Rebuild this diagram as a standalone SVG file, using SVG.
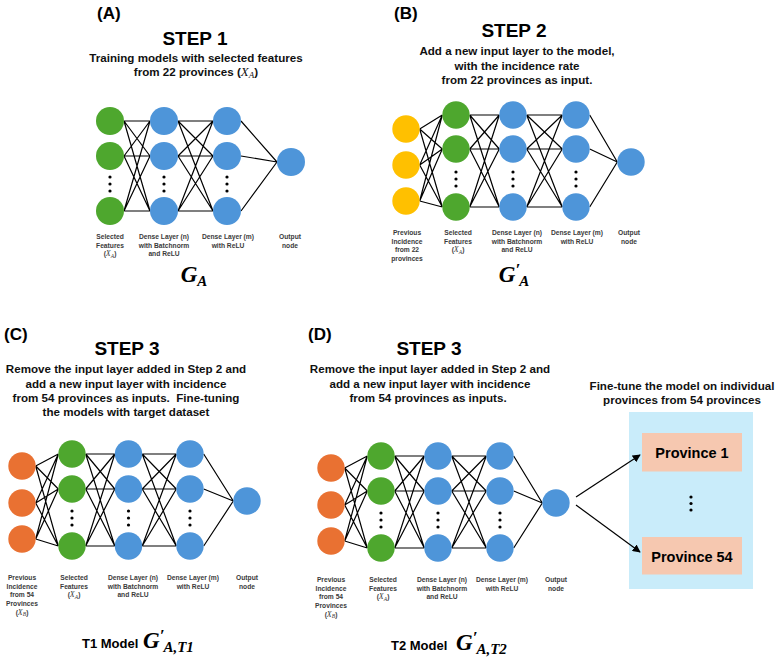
<svg xmlns="http://www.w3.org/2000/svg" width="778" height="659" viewBox="0 0 778 659">
<defs>
<style>
.t{font-family:"Liberation Sans",Arial,sans-serif;font-weight:bold;fill:#000}
.lab{font-family:"Liberation Sans",Arial,sans-serif;font-weight:bold;font-size:6.7px;fill:#3a3a3a;text-anchor:middle}
.sub{font-family:"Liberation Sans",Arial,sans-serif;font-weight:bold;font-size:11.6px;fill:#111;text-anchor:middle}
.step{font-family:"Liberation Sans",Arial,sans-serif;font-weight:bold;font-size:19px;fill:#000;text-anchor:middle}
.pl{font-family:"Liberation Sans",Arial,sans-serif;font-weight:bold;font-size:17px;fill:#000}
.m{font-family:"Liberation Serif","Times New Roman",serif;font-style:italic;font-weight:bold}
.mi{font-family:"Liberation Serif","Times New Roman",serif;font-style:italic;font-weight:normal}
.g{fill:#4EA72E}.b{fill:#4E95D9}.y{fill:#FFC000}.o{fill:#E97132}
.e{stroke:#000;stroke-width:1.2;fill:none}
.dot{fill:#000}
</style>
<marker id="arr" viewBox="0 0 10 10" refX="9" refY="5" markerWidth="8" markerHeight="8" orient="auto-start-reverse" markerUnits="userSpaceOnUse">
<path d="M0,0 L10,5 L0,10 z" fill="#000"/>
</marker>
</defs>
<rect width="778" height="659" fill="#fff"/>

<!-- Fine-tune box (background node) -->
<g id="finetune-box"><rect x="629" y="412" width="124" height="177" fill="#C9ECFA"/>
<circle class="dot" cx="691" cy="497" r="1.6"/><circle class="dot" cx="691" cy="503.5" r="1.6"/><circle class="dot" cx="691" cy="510" r="1.6"/></g>
<g id="province1"><rect x="642" y="433" width="100" height="38.5" fill="#F6C8B0"/>
<text class="t" x="692" y="458" font-size="14.5" text-anchor="middle">Province 1</text></g>
<g id="province54"><rect x="642" y="537" width="100" height="37.5" fill="#F6C8B0"/>
<text class="t" x="692" y="561.5" font-size="14.5" text-anchor="middle">Province 54</text></g>

<!-- Headers -->
<g id="panelA-title">
<text class="pl" x="97" y="19">(A)</text>
<text class="step" x="195" y="45">STEP 1</text>
<text class="sub" x="196" y="62">Training models with selected features</text>
<text class="sub" x="196" y="76">from 22 provinces (<tspan class="mi" font-size="13">X</tspan><tspan class="mi" font-size="9" dy="2">A</tspan><tspan dy="-2">)</tspan></text>
</g>
<g id="panelB-title">
<text class="pl" x="394" y="19">(B)</text>
<text class="step" x="514" y="37">STEP 2</text>
<text class="sub" x="517" y="55">Add a new input layer to the model,</text>
<text class="sub" x="517" y="69.5">with the incidence rate</text>
<text class="sub" x="517" y="84">from 22 provinces as input.</text>
</g>
<g id="panelC-title">
<text class="pl" x="4" y="340">(C)</text>
<text class="step" x="127" y="355">STEP 3</text>
<text class="sub" x="126" y="373">Remove the input layer added in Step 2 and</text>
<text class="sub" x="126" y="387.5">add a new input layer with incidence</text>
<text class="sub" x="126" y="402" xml:space="preserve">from 54 provinces as inputs.  Fine-tuning</text>
<text class="sub" x="126" y="416">the models with target dataset</text>
</g>
<g id="panelD-title">
<text class="pl" x="308" y="340">(D)</text>
<text class="step" x="429" y="355">STEP 3</text>
<text class="sub" x="430" y="373">Remove the input layer added in Step 2 and</text>
<text class="sub" x="430" y="388">add a new input layer with incidence</text>
<text class="sub" x="428" y="402">from 54 provinces as inputs.</text>
<text class="sub" x="682" y="390">Fine-tune the model on individual</text>
<text class="sub" x="682" y="404">provinces from 54 provinces</text>
</g>

<!-- Connectors -->
<g id="connectors">
<!-- A -->
<path class="e" d="M124,121L150,121M124,121L150,156M124,121L150,211M124,156L150,121M124,156L150,156M124,156L150,211M124,211L150,121M124,211L150,156M124,211L150,211"/>
<path class="e" d="M178,121L213,121M178,121L213,156M178,121L213,211M178,156L213,121M178,156L213,156M178,156L213,211M178,211L213,121M178,211L213,156M178,211L213,211"/>
<path class="e" d="M241,121L277,162M241,156L277,162M241,211L277,162"/>
<!-- B -->
<path class="e" d="M419.7,129L442.3,115M419.7,129L442.3,149M419.7,129L442.3,207M419.7,165L442.3,115M419.7,165L442.3,149M419.7,165L442.3,207M419.7,201L442.3,115M419.7,201L442.3,149M419.7,201L442.3,207"/>
<path class="e" d="M469.7,115L499.3,115M469.7,115L499.3,149M469.7,115L499.3,207M469.7,149L499.3,115M469.7,149L499.3,149M469.7,149L499.3,207M469.7,207L499.3,115M469.7,207L499.3,149M469.7,207L499.3,207"/>
<path class="e" d="M526.7,115L562.3,115M526.7,115L562.3,149M526.7,115L562.3,207M526.7,149L562.3,115M526.7,149L562.3,149M526.7,149L562.3,207M526.7,207L562.3,115M526.7,207L562.3,149M526.7,207L562.3,207"/>
<path class="e" d="M589.7,115L617.3,162M589.7,149L617.3,162M589.7,207L617.3,162"/>
<!-- C -->
<path class="e" d="M35.7,466L58.3,454M35.7,466L58.3,489M35.7,466L58.3,546M35.7,503L58.3,454M35.7,503L58.3,489M35.7,503L58.3,546M35.7,539L58.3,454M35.7,539L58.3,489M35.7,539L58.3,546"/>
<path class="e" d="M85.7,454L114.8,454M85.7,454L114.8,489M85.7,454L114.8,546M85.7,489L114.8,454M85.7,489L114.8,489M85.7,489L114.8,546M85.7,546L114.8,454M85.7,546L114.8,489M85.7,546L114.8,546"/>
<path class="e" d="M142.2,454L176.3,454M142.2,454L176.3,489M142.2,454L176.3,546M142.2,489L176.3,454M142.2,489L176.3,489M142.2,489L176.3,546M142.2,546L176.3,454M142.2,546L176.3,489M142.2,546L176.3,546"/>
<path class="e" d="M203.7,454L233.3,501M203.7,489L233.3,501M203.7,546L233.3,501"/>
<!-- D -->
<path class="e" d="M344.7,468L367.3,456M344.7,468L367.3,491M344.7,468L367.3,548M344.7,505L367.3,456M344.7,505L367.3,491M344.7,505L367.3,548M344.7,541L367.3,456M344.7,541L367.3,491M344.7,541L367.3,548"/>
<path class="e" d="M394.7,456L424.3,456M394.7,456L424.3,491M394.7,456L424.3,548M394.7,491L424.3,456M394.7,491L424.3,491M394.7,491L424.3,548M394.7,548L424.3,456M394.7,548L424.3,491M394.7,548L424.3,548"/>
<path class="e" d="M451.7,456L486.3,456M451.7,456L486.3,491M451.7,456L486.3,548M451.7,491L486.3,456M451.7,491L486.3,491M451.7,491L486.3,548M451.7,548L486.3,456M451.7,548L486.3,491M451.7,548L486.3,548"/>
<path class="e" d="M513.7,456L542.3,503M513.7,491L542.3,503M513.7,548L542.3,503"/>
<line x1="576" y1="497" x2="640" y2="455" stroke="#000" stroke-width="1.2" marker-end="url(#arr)"/>
<line x1="576" y1="505" x2="640" y2="552" stroke="#000" stroke-width="1.2" marker-end="url(#arr)"/>
</g>

<!-- Panel A nodes -->
<g id="A-input"><circle class="g" cx="110" cy="121" r="14"/><circle class="g" cx="110" cy="156" r="14"/><circle class="g" cx="110" cy="211" r="14"/>
<circle class="dot" cx="110" cy="177" r="1.6"/><circle class="dot" cx="110" cy="184" r="1.6"/><circle class="dot" cx="110" cy="191" r="1.6"/></g>
<g id="A-dense1"><circle class="b" cx="164" cy="121" r="14"/><circle class="b" cx="164" cy="156" r="14"/><circle class="b" cx="164" cy="211" r="14"/>
<circle class="dot" cx="164" cy="177" r="1.6"/><circle class="dot" cx="164" cy="184" r="1.6"/><circle class="dot" cx="164" cy="191" r="1.6"/></g>
<g id="A-dense2"><circle class="b" cx="227" cy="121" r="14"/><circle class="b" cx="227" cy="156" r="14"/><circle class="b" cx="227" cy="211" r="14"/>
<circle class="dot" cx="227" cy="177" r="1.6"/><circle class="dot" cx="227" cy="184" r="1.6"/><circle class="dot" cx="227" cy="191" r="1.6"/></g>
<g id="A-output"><circle class="b" cx="291" cy="162" r="14"/></g>
<g id="A-labels">
<text class="lab" x="110" y="239">Selected<tspan x="110" dy="8.5">Features</tspan><tspan x="110" dy="8.5">(</tspan><tspan class="mi" font-size="8">X</tspan><tspan class="mi" font-size="5.5" dy="1.5">A</tspan><tspan dy="-1.5">)</tspan></text>
<text class="lab" x="164" y="239">Dense Layer (n)<tspan x="164" dy="8.5">with Batchnorm</tspan><tspan x="164" dy="8.5">and ReLU</tspan></text>
<text class="lab" x="228" y="239">Dense Layer (m)<tspan x="228" dy="8.5">with ReLU</tspan></text>
<text class="lab" x="290" y="239">Output<tspan x="290" dy="8.5">node</tspan></text>
<text class="m" x="194" y="282" font-size="23" text-anchor="middle">G<tspan font-size="15" dy="4">A</tspan></text>
</g>

<!-- Panel B nodes -->
<g id="B-prev"><circle class="y" cx="406" cy="129" r="13.7"/><circle class="y" cx="406" cy="165" r="13.7"/><circle class="y" cx="406" cy="201" r="13.7"/></g>
<g id="B-input"><circle class="g" cx="456" cy="115" r="13.7"/><circle class="g" cx="456" cy="149" r="13.7"/><circle class="g" cx="456" cy="207" r="13.7"/>
<circle class="dot" cx="456" cy="172" r="1.6"/><circle class="dot" cx="456" cy="179" r="1.6"/><circle class="dot" cx="456" cy="186" r="1.6"/></g>
<g id="B-dense1"><circle class="b" cx="513" cy="115" r="13.7"/><circle class="b" cx="513" cy="149" r="13.7"/><circle class="b" cx="513" cy="207" r="13.7"/>
<circle class="dot" cx="513" cy="172" r="1.6"/><circle class="dot" cx="513" cy="179" r="1.6"/><circle class="dot" cx="513" cy="186" r="1.6"/></g>
<g id="B-dense2"><circle class="b" cx="576" cy="115" r="13.7"/><circle class="b" cx="576" cy="149" r="13.7"/><circle class="b" cx="576" cy="207" r="13.7"/>
<circle class="dot" cx="576" cy="172" r="1.6"/><circle class="dot" cx="576" cy="179" r="1.6"/><circle class="dot" cx="576" cy="186" r="1.6"/></g>
<g id="B-output"><circle class="b" cx="631" cy="162" r="13.7"/></g>
<g id="B-labels">
<text class="lab" x="407" y="235">Previous<tspan x="407" dy="8.5">Incidence</tspan><tspan x="407" dy="8.5">from 22</tspan><tspan x="407" dy="8.5">provinces</tspan></text>
<text class="lab" x="458" y="235">Selected<tspan x="458" dy="8.5">Features</tspan><tspan x="458" dy="8.5">(</tspan><tspan class="mi" font-size="8">X</tspan><tspan class="mi" font-size="5.5" dy="1.5">A</tspan><tspan dy="-1.5">)</tspan></text>
<text class="lab" x="517" y="235">Dense Layer (n)<tspan x="517" dy="8.5">with Batchnorm</tspan><tspan x="517" dy="8.5">and ReLU</tspan></text>
<text class="lab" x="577" y="235">Dense Layer (m)<tspan x="577" dy="8.5">with ReLU</tspan></text>
<text class="lab" x="629" y="235">Output<tspan x="629" dy="8.5">node</tspan></text>
<text class="m" x="514" y="282" font-size="23" text-anchor="middle">G<tspan font-size="17" dy="-7">′</tspan><tspan font-size="15" dx="-1" dy="11">A</tspan></text>
</g>

<!-- Panel C nodes -->
<g id="C-prev"><circle class="o" cx="22" cy="466" r="13.7"/><circle class="o" cx="22" cy="503" r="13.7"/><circle class="o" cx="22" cy="539" r="13.7"/></g>
<g id="C-input"><circle class="g" cx="72" cy="454" r="13.7"/><circle class="g" cx="72" cy="489" r="13.7"/><circle class="g" cx="72" cy="546" r="13.7"/>
<circle class="dot" cx="72" cy="511" r="1.6"/><circle class="dot" cx="72" cy="518" r="1.6"/><circle class="dot" cx="72" cy="525" r="1.6"/></g>
<g id="C-dense1"><circle class="b" cx="128.5" cy="454" r="13.7"/><circle class="b" cx="128.5" cy="489" r="13.7"/><circle class="b" cx="128.5" cy="546" r="13.7"/>
<circle class="dot" cx="128.5" cy="511" r="1.6"/><circle class="dot" cx="128.5" cy="518" r="1.6"/><circle class="dot" cx="128.5" cy="525" r="1.6"/></g>
<g id="C-dense2"><circle class="b" cx="190" cy="454" r="13.7"/><circle class="b" cx="190" cy="489" r="13.7"/><circle class="b" cx="190" cy="546" r="13.7"/>
<circle class="dot" cx="190" cy="511" r="1.6"/><circle class="dot" cx="190" cy="518" r="1.6"/><circle class="dot" cx="190" cy="525" r="1.6"/></g>
<g id="C-output"><circle class="b" cx="247" cy="501" r="13.7"/></g>
<g id="C-labels">
<text class="lab" x="22" y="580">Previous<tspan x="22" dy="8.5">Incidence</tspan><tspan x="22" dy="8.5">from 54</tspan><tspan x="22" dy="8.5">Provinces</tspan><tspan x="22" dy="9">(</tspan><tspan class="mi" font-size="8">X</tspan><tspan class="mi" font-size="5.5" dy="1.5">B</tspan><tspan dy="-1.5">)</tspan></text>
<text class="lab" x="74" y="580">Selected<tspan x="74" dy="8.5">Features</tspan><tspan x="74" dy="8.5">(</tspan><tspan class="mi" font-size="8">X</tspan><tspan class="mi" font-size="5.5" dy="1.5">A</tspan><tspan dy="-1.5">)</tspan></text>
<text class="lab" x="133" y="580">Dense Layer (n)<tspan x="133" dy="8.5">with Batchnorm</tspan><tspan x="133" dy="8.5">and ReLU</tspan></text>
<text class="lab" x="193" y="580">Dense Layer (m)<tspan x="193" dy="8.5">with ReLU</tspan></text>
<text class="lab" x="247" y="580">Output<tspan x="247" dy="8.5">node</tspan></text>
<text class="t" x="82" y="648" font-size="13">T1 Model</text>
<text class="m" x="143" y="648" font-size="23">G<tspan font-size="17" dy="-7">′</tspan><tspan font-size="15" dx="-1" dy="11">A,T1</tspan></text>
</g>

<!-- Panel D nodes -->
<g id="D-prev"><circle class="o" cx="331" cy="468" r="13.7"/><circle class="o" cx="331" cy="505" r="13.7"/><circle class="o" cx="331" cy="541" r="13.7"/></g>
<g id="D-input"><circle class="g" cx="381" cy="456" r="13.7"/><circle class="g" cx="381" cy="491" r="13.7"/><circle class="g" cx="381" cy="548" r="13.7"/>
<circle class="dot" cx="381" cy="513" r="1.6"/><circle class="dot" cx="381" cy="520" r="1.6"/><circle class="dot" cx="381" cy="527" r="1.6"/></g>
<g id="D-dense1"><circle class="b" cx="438" cy="456" r="13.7"/><circle class="b" cx="438" cy="491" r="13.7"/><circle class="b" cx="438" cy="548" r="13.7"/>
<circle class="dot" cx="438" cy="513" r="1.6"/><circle class="dot" cx="438" cy="520" r="1.6"/><circle class="dot" cx="438" cy="527" r="1.6"/></g>
<g id="D-dense2"><circle class="b" cx="500" cy="456" r="13.7"/><circle class="b" cx="500" cy="491" r="13.7"/><circle class="b" cx="500" cy="548" r="13.7"/>
<circle class="dot" cx="500" cy="513" r="1.6"/><circle class="dot" cx="500" cy="520" r="1.6"/><circle class="dot" cx="500" cy="527" r="1.6"/></g>
<g id="D-output"><circle class="b" cx="556" cy="503" r="13.7"/></g>
<g id="D-labels">
<text class="lab" x="331" y="582">Previous<tspan x="331" dy="8.5">Incidence</tspan><tspan x="331" dy="8.5">from 54</tspan><tspan x="331" dy="8.5">Provinces</tspan><tspan x="331" dy="9">(</tspan><tspan class="mi" font-size="8">X</tspan><tspan class="mi" font-size="5.5" dy="1.5">B</tspan><tspan dy="-1.5">)</tspan></text>
<text class="lab" x="383" y="582">Selected<tspan x="383" dy="8.5">Features</tspan><tspan x="383" dy="8.5">(</tspan><tspan class="mi" font-size="8">X</tspan><tspan class="mi" font-size="5.5" dy="1.5">A</tspan><tspan dy="-1.5">)</tspan></text>
<text class="lab" x="442" y="582">Dense Layer (n)<tspan x="442" dy="8.5">with Batchnorm</tspan><tspan x="442" dy="8.5">and ReLU</tspan></text>
<text class="lab" x="502" y="582">Dense Layer (m)<tspan x="502" dy="8.5">with ReLU</tspan></text>
<text class="lab" x="556" y="582">Output<tspan x="556" dy="8.5">node</tspan></text>
<text class="t" x="391" y="650" font-size="13">T2 Model</text>
<text class="m" x="456" y="650" font-size="23">G<tspan font-size="17" dy="-7">′</tspan><tspan font-size="15" dx="-1" dy="11">A,T2</tspan></text>
</g>
</svg>
